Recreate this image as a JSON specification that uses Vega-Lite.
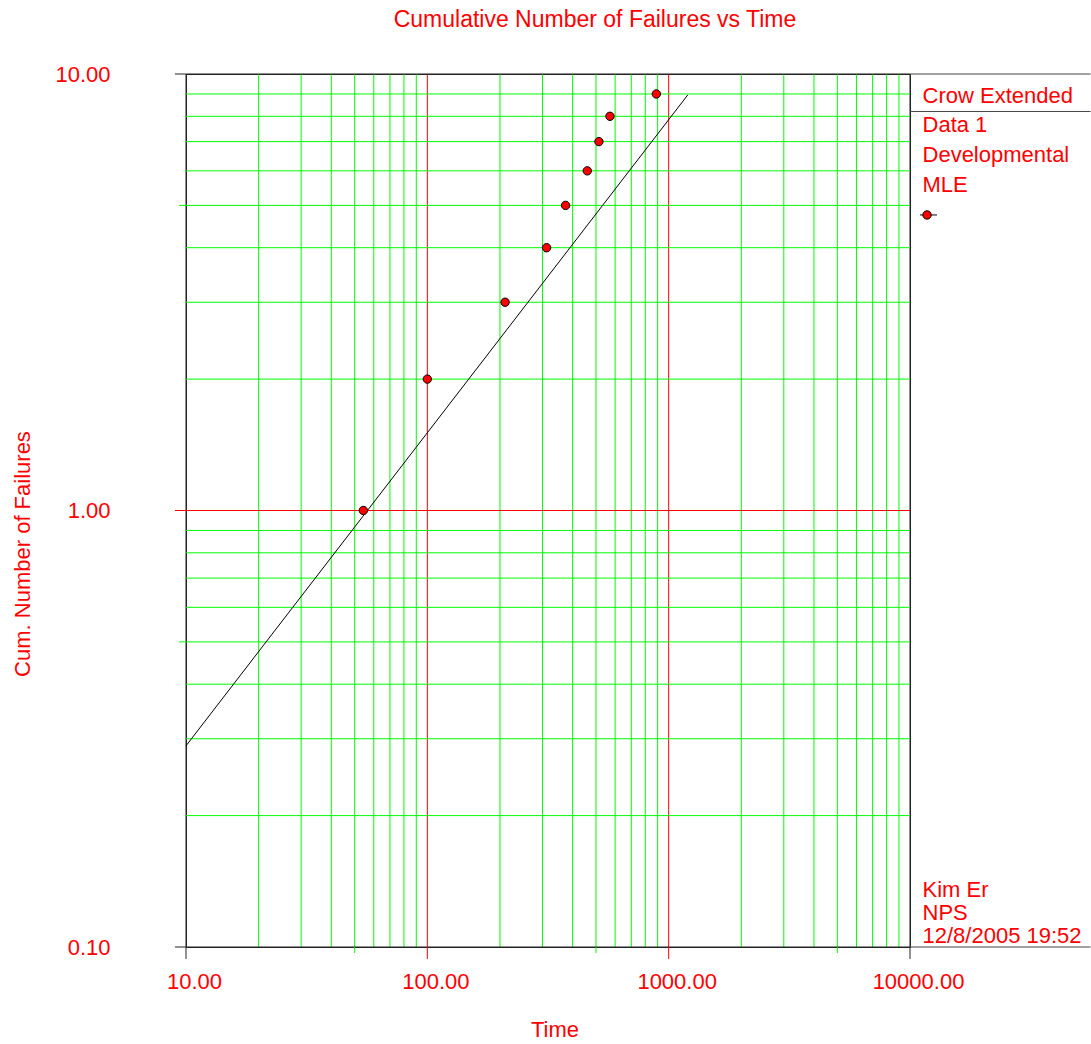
{
  "$schema": "https://vega.github.io/schema/vega-lite/v6.json",
  "width": 724,
  "height": 873,
  "autosize": {"type": "none"},
  "padding": {"left": 186, "top": 74, "right": 181, "bottom": 97},
  "background": "white",
  "title": {
    "text": "Cumulative Number of Failures vs Time",
    "color": "#ff0000",
    "font": "Liberation Sans",
    "fontSize": 23,
    "fontWeight": "normal",
    "anchor": "middle",
    "frame": "group",
    "dx": 47,
    "offset": 13,
    "baseline": "alphabetic"
  },
  "config": {
    "view": {"stroke": "#222222", "strokeWidth": 1},
    "font": "Liberation Sans",
    "axis": {"grid": false, "ticks": false, "labels": false, "domain": false}
  },
  "datasets": {
    "failures": [
      {"time": 54.3, "cum": 1},
      {"time": 100, "cum": 2},
      {"time": 210, "cum": 3},
      {"time": 312, "cum": 4},
      {"time": 374, "cum": 5},
      {"time": 460, "cum": 6},
      {"time": 514, "cum": 7},
      {"time": 571, "cum": 8},
      {"time": 889, "cum": 9}
    ],
    "fit": [
      {"time": 10, "cum": 0.289},
      {"time": 1199, "cum": 8.95}
    ],
    "xgrid": [
      {"time": 10, "line": "edge"},
      {"time": 20, "line": "minor"}, {"time": 30, "line": "minor"}, {"time": 40, "line": "minor"}, {"time": 50, "line": "minor"},
      {"time": 60, "line": "minor"}, {"time": 70, "line": "minor"}, {"time": 80, "line": "minor"}, {"time": 90, "line": "minor"},
      {"time": 100, "line": "major"},
      {"time": 200, "line": "minor"}, {"time": 300, "line": "minor"}, {"time": 400, "line": "minor"}, {"time": 500, "line": "minor"},
      {"time": 600, "line": "minor"}, {"time": 700, "line": "minor"}, {"time": 800, "line": "minor"}, {"time": 900, "line": "minor"},
      {"time": 1000, "line": "major"},
      {"time": 2000, "line": "minor"}, {"time": 3000, "line": "minor"}, {"time": 4000, "line": "minor"}, {"time": 5000, "line": "minor"},
      {"time": 6000, "line": "minor"}, {"time": 7000, "line": "minor"}, {"time": 8000, "line": "minor"}, {"time": 9000, "line": "minor"},
      {"time": 10000, "line": "edge"}
    ],
    "ygrid": [
      {"cum": 0.1, "line": "edge"},
      {"cum": 0.2, "line": "minor"}, {"cum": 0.3, "line": "minor"}, {"cum": 0.4, "line": "minor"}, {"cum": 0.5, "line": "minor"},
      {"cum": 0.6, "line": "minor"}, {"cum": 0.7, "line": "minor"}, {"cum": 0.8, "line": "minor"}, {"cum": 0.9, "line": "minor"},
      {"cum": 1, "line": "major"},
      {"cum": 2, "line": "minor"}, {"cum": 3, "line": "minor"}, {"cum": 4, "line": "minor"}, {"cum": 5, "line": "minor"},
      {"cum": 6, "line": "minor"}, {"cum": 7, "line": "minor"}, {"cum": 8, "line": "minor"}, {"cum": 9, "line": "minor"},
      {"cum": 10, "line": "edge"}
    ]
  },
  "layer": [
    {
      "data": {"name": "xgrid"},
      "mark": {"type": "rule", "strokeWidth": 1},
      "encoding": {
        "x": {"field": "time", "type": "quantitative"},
        "y": {"datum": 0.1, "type": "quantitative"},
        "y2": {"datum": 10},
        "color": {"field": "line", "type": "nominal", "scale": {"domain": ["minor", "major", "edge"], "range": ["#00ff00", "#ff0000", "#222222"]}, "legend": null}
      }
    },
    {
      "data": {"name": "ygrid"},
      "mark": {"type": "rule", "strokeWidth": 1},
      "encoding": {
        "y": {"field": "cum", "type": "quantitative"},
        "x": {"datum": 10, "type": "quantitative"},
        "x2": {"datum": 10000},
        "color": {"field": "line", "type": "nominal", "legend": null}
      }
    },
    {
      "data": {"name": "xgrid"},
      "transform": [{"filter": "datum.line != 'minor'"}],
      "mark": {"type": "rule", "strokeWidth": 1},
      "encoding": {
        "x": {"field": "time", "type": "quantitative"},
        "y": {"datum": 0.1, "type": "quantitative"},
        "y2": {"datum": 0.0939},
        "color": {"field": "line", "type": "nominal", "legend": null}
      }
    },
    {
      "data": {"name": "xgrid"},
      "transform": [{"filter": "datum.time == 50 || datum.time == 500 || datum.time == 5000"}],
      "mark": {"type": "rule", "strokeWidth": 1},
      "encoding": {
        "x": {"field": "time", "type": "quantitative"},
        "y": {"datum": 0.1, "type": "quantitative"},
        "y2": {"datum": 0.09688},
        "color": {"field": "line", "type": "nominal", "legend": null}
      }
    },
    {
      "data": {"name": "ygrid"},
      "transform": [{"filter": "datum.line != 'minor'"}],
      "mark": {"type": "rule", "strokeWidth": 1},
      "encoding": {
        "y": {"field": "cum", "type": "quantitative"},
        "x": {"datum": 9.0, "type": "quantitative"},
        "x2": {"datum": 10},
        "color": {"field": "line", "type": "nominal", "legend": null}
      }
    },
    {
      "data": {"name": "ygrid"},
      "transform": [{"filter": "datum.cum == 0.5 || datum.cum == 5"}],
      "mark": {"type": "rule", "strokeWidth": 1},
      "encoding": {
        "y": {"field": "cum", "type": "quantitative"},
        "x": {"datum": 9.354, "type": "quantitative"},
        "x2": {"datum": 10},
        "color": {"field": "line", "type": "nominal", "legend": null}
      }
    },
    {
      "data": {"name": "fit"},
      "mark": {"type": "line", "color": "#000000", "strokeWidth": 1},
      "encoding": {
        "x": {
          "field": "time",
          "type": "quantitative",
          "scale": {"type": "log", "domain": [10, 10000], "nice": false},
          "axis": {
            "title": "Time",
            "values": [10, 100, 1000, 10000],
            "grid": false,
            "ticks": true,
            "tickSize": 12,
            "tickOpacity": 0,
            "labels": true,
            "labelExpr": "format(datum.value, '.2f')",
            "labelColor": "#ff0000",
            "labelFont": "Liberation Sans",
            "labelFontSize": 22,
            "labelAlign": "center",
            "labelBaseline": "top",
            "labelPadding": 12,
            "labelOffset": 8,
            "labelFlush": false,
            "labelOverlap": false,
            "labelBound": false,
            "domain": false,
            "titleColor": "#ff0000",
            "titleFont": "Liberation Sans",
            "titleFontSize": 22,
            "titleFontWeight": "normal",
            "titleX": 368.5,
            "titleY": 89,
            "titleBaseline": "alphabetic",
            "titleAlign": "center"
          }
        },
        "y": {
          "field": "cum",
          "type": "quantitative",
          "scale": {"type": "log", "domain": [0.1, 10], "nice": false},
          "axis": {
            "title": "Cum. Number of Failures",
            "values": [0.1, 1, 10],
            "grid": false,
            "ticks": true,
            "tickSize": 11,
            "tickOpacity": 0,
            "labels": true,
            "labelExpr": "format(datum.value, '.2f')",
            "labelColor": "#ff0000",
            "labelFont": "Liberation Sans",
            "labelFontSize": 22,
            "labelAlign": "right",
            "labelBaseline": "middle",
            "labelPadding": 65,
            "labelFlush": false,
            "labelOverlap": false,
            "labelBound": false,
            "domain": false,
            "titleColor": "#ff0000",
            "titleFont": "Liberation Sans",
            "titleFontSize": 22,
            "titleFontWeight": "normal",
            "titleAngle": 270,
            "titleX": -157,
            "titleY": 479.5,
            "titleBaseline": "alphabetic",
            "titleAlign": "center"
          }
        }
      }
    },
    {
      "data": {"name": "failures"},
      "mark": {"type": "circle", "fill": "#ff0000", "stroke": "#000000", "strokeWidth": 1, "size": 70, "opacity": 1},
      "encoding": {
        "x": {"field": "time", "type": "quantitative"},
        "y": {"field": "cum", "type": "quantitative"}
      }
    },
    {
      "data": {"values": [{}]},
      "mark": {"type": "rule", "color": "#444444", "strokeWidth": 1},
      "encoding": {
        "x": {"datum": 10000, "type": "quantitative"},
        "x2": {"datum": 56000},
        "y": {"datum": 10, "type": "quantitative"}
      }
    },
    {
      "data": {"values": [{}]},
      "mark": {"type": "rule", "color": "#444444", "strokeWidth": 1},
      "encoding": {
        "x": {"datum": 10000, "type": "quantitative"},
        "x2": {"datum": 56000},
        "y": {"datum": 8.206, "type": "quantitative"}
      }
    },
    {
      "data": {"values": [{}]},
      "mark": {"type": "rule", "color": "#444444", "strokeWidth": 1},
      "encoding": {
        "x": {"datum": 10000, "type": "quantitative"},
        "x2": {"datum": 56000},
        "y": {"datum": 0.1, "type": "quantitative"}
      }
    },
    {
      "data": {"values": [{}]},
      "mark": {"type": "text", "text": "Crow Extended", "align": "left", "baseline": "alphabetic", "font": "Liberation Sans", "fontSize": 22, "color": "#ff0000"},
      "encoding": {
        "x": {"datum": 11268, "type": "quantitative"},
        "y": {"datum": 8.583, "type": "quantitative"}
      }
    },
    {
      "data": {"values": [{}]},
      "mark": {"type": "text", "text": ["Data 1", "Developmental", "MLE"], "lineHeight": 30, "align": "left", "baseline": "alphabetic", "font": "Liberation Sans", "fontSize": 22, "color": "#ff0000"},
      "encoding": {
        "x": {"datum": 11268, "type": "quantitative"},
        "y": {"datum": 7.364, "type": "quantitative"}
      }
    },
    {
      "data": {"values": [{}]},
      "mark": {"type": "rule", "color": "#000000", "strokeWidth": 1},
      "encoding": {
        "x": {"datum": 11003, "type": "quantitative"},
        "x2": {"datum": 12940},
        "y": {"datum": 4.754, "type": "quantitative"}
      }
    },
    {
      "data": {"values": [{}]},
      "mark": {"type": "circle", "fill": "#ff0000", "stroke": "#000000", "strokeWidth": 1, "size": 70, "opacity": 1},
      "encoding": {
        "x": {"datum": 11764, "type": "quantitative"},
        "y": {"datum": 4.754, "type": "quantitative"}
      }
    },
    {
      "data": {"values": [{}]},
      "mark": {"type": "text", "text": ["Kim Er", "NPS", "12/8/2005 19:52"], "lineHeight": 23, "align": "left", "baseline": "alphabetic", "font": "Liberation Sans", "fontSize": 22, "color": "#ff0000"},
      "encoding": {
        "x": {"datum": 11268, "type": "quantitative"},
        "y": {"datum": 0.1302, "type": "quantitative"}
      }
    }
  ]
}
